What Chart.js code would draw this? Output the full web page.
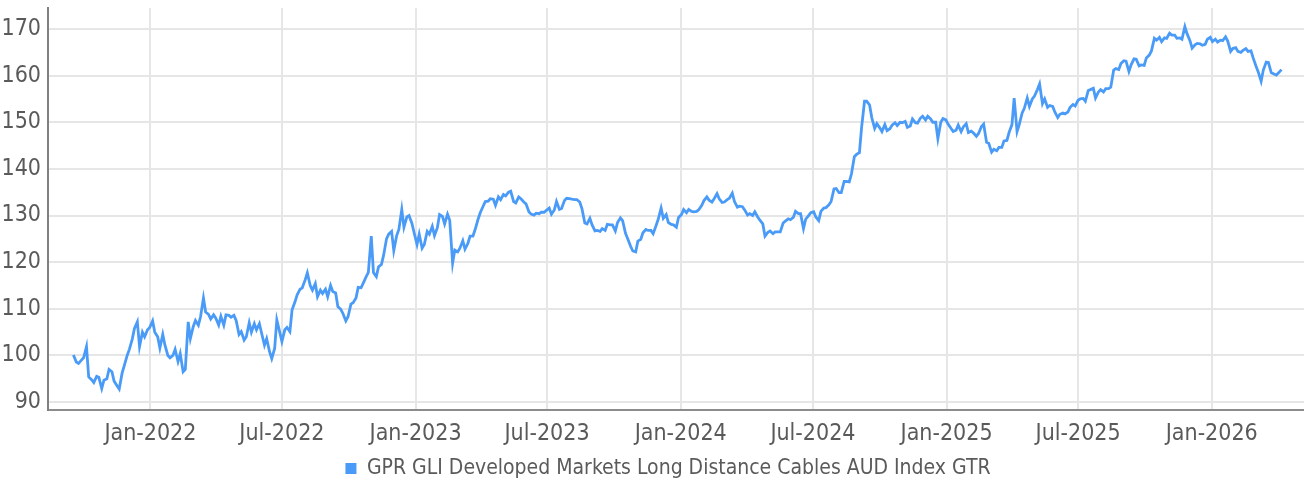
<!DOCTYPE html>
<html>
<head>
<meta charset="utf-8">
<script src="https://cdn.jsdelivr.net/npm/chart.js@4.4.1/dist/chart.umd.min.js"></script>
<style>
  html, body { margin: 0; padding: 0; background: #ffffff; }
  #wrap { width: 1304px; height: 493px; position: relative; }
</style>
</head>
<body>
<div id="wrap"><canvas id="indexChart"></canvas></div>
<script>
// Index levels, two per week:
// the Friday close and the following Tuesday close (weeks grouped by the Friday's year)
const seriesName = 'GPR GLI Developed Markets Long Distance Cables AUD Index GTR';
const firstFriday = '2021-09-17';

const close2021 = [100.1, 98.6, 98.3, 99.0, 99.5, 101.9, 95.4, 94.8, 94.2, 95.5, 95.3, 92.9, 94.7, 95.0, 97.0, 96.5,
                   94.5, 93.5, 92.8, 96.2, 97.8, 100.0, 101.3, 103.5, 105.8, 107.2, 101.9, 105.0, 104.0, 105.5, 106.0, 107.4];
const close2022 = [105.0, 104.0, 101.6, 104.5, 102.2, 100.0, 99.5, 100.0, 101.3, 98.7, 100.4, 96.5, 97.0, 107.2, 103.6, 106.2,
                   107.5, 106.5, 108.3, 112.3, 109.3, 108.8, 107.8, 108.7, 108.0, 106.5, 108.4, 106.5, 108.7, 108.6, 108.2, 108.6,
                   107.5, 104.5, 105.1, 103.3, 104.0, 107.0, 105.0, 106.8, 105.5, 106.8, 104.8, 102.2, 103.6, 100.8, 99.3, 101.5,
                   107.6, 105.0, 103.0, 105.5, 106.0, 105.1, 109.8, 111.5, 113.0, 114.2, 114.5, 116.2, 117.7, 115.0, 114.0, 115.4,
                   112.6, 114.0, 113.3, 114.2, 112.6, 115.0, 113.7, 113.4, 110.5, 109.9, 109.0, 107.4, 108.3, 111.0, 111.3, 112.3,
                   114.6, 114.5, 115.5, 116.9, 117.8, 125.6, 117.8, 116.9, 119.0, 119.5, 121.5, 125.0, 126.0, 126.6, 122.5, 125.7,
                   127.0, 131.3, 127.5, 129.7, 130.0, 128.3, 126.3, 123.8];
const close2023 = [126.0, 123.0, 123.8, 126.6, 126.0, 127.7, 125.7, 127.4, 130.2, 129.8, 128.2, 130.3, 129.0, 119.8, 122.6, 122.2,
                   123.0, 124.6, 122.8, 124.0, 125.6, 125.6, 127.0, 129.2, 130.6, 132.0, 133.0, 133.1, 133.6, 133.5, 132.2, 134.0,
                   133.4, 134.5, 134.2, 135.0, 135.2, 133.0, 132.7, 134.0, 133.6, 132.9, 132.5, 130.8, 130.3, 130.1, 130.5, 130.4,
                   130.7, 130.7, 131.1, 131.6, 130.3, 131.2, 133.0, 131.3, 131.5, 133.2, 133.7, 133.6, 133.5, 133.4, 133.4, 132.9,
                   131.5, 128.4, 128.2, 129.4, 128.0, 126.7, 126.8, 126.6, 127.2, 126.8, 128.1, 128.0, 128.0, 126.7, 128.5, 129.5,
                   128.9, 126.2, 125.0, 123.4, 122.4, 122.2, 124.5, 124.9, 126.3, 127.0, 126.8, 126.8, 126.1, 127.8, 129.2, 131.6,
                   129.4, 130.2, 128.5, 128.1, 128.0, 127.5, 129.6, 130.2];
const close2024 = [131.3, 130.6, 131.3, 130.9, 130.8, 130.9, 131.3, 132.2, 133.2, 134.0, 133.3, 132.9, 133.6, 134.7, 133.6, 132.8,
                   132.9, 133.4, 133.7, 134.8, 133.0, 131.8, 132.0, 131.9, 131.2, 130.1, 130.4, 130.0, 130.8, 129.7, 129.0, 128.2,
                   125.6, 126.4, 126.7, 126.1, 126.5, 126.5, 126.5, 128.4, 128.8, 129.3, 129.1, 129.6, 130.9, 130.4, 130.4, 127.2,
                   129.2, 130.0, 130.6, 130.8, 129.7, 128.9, 130.9, 131.6, 131.7, 132.3, 133.0, 135.7, 135.8, 134.9, 134.9, 137.3,
                   137.3, 137.2, 138.9, 142.6, 143.1, 143.5, 148.9, 154.5, 154.5, 153.7, 151.0, 148.7, 149.7, 148.8, 148.0, 149.5,
                   148.2, 148.6, 149.4, 149.9, 149.3, 150.0, 149.9, 150.2, 148.9, 149.2, 150.7, 149.9, 149.8, 150.9, 151.3, 150.5,
                   151.3, 150.7, 150.0, 150.0, 146.5, 150.0, 150.8, 150.5];
const close2025 = [149.6, 148.7, 148.0, 148.3, 149.4, 148.0, 149.0, 149.7, 147.8, 148.1, 147.7, 147.0, 147.6, 149.1, 149.6, 145.7,
                   145.5, 143.6, 144.2, 143.9, 144.6, 144.6, 146.0, 146.1, 147.8, 149.5, 155.2, 148.0, 149.5, 152.0, 153.0, 155.2,
                   153.4, 155.0, 155.6, 157.0, 158.2, 154.0, 155.0, 153.2, 153.6, 153.4, 152.2, 151.0, 151.7, 152.0, 151.8, 152.2,
                   153.2, 153.8, 153.5, 154.7, 155.0, 155.1, 154.5, 156.8, 157.0, 157.3, 155.2, 156.5, 157.0, 156.5, 157.2, 157.2,
                   157.5, 161.2, 161.5, 161.3, 162.6, 163.2, 163.1, 160.9, 162.3, 163.6, 163.5, 162.1, 162.3, 162.2, 163.8, 164.4,
                   165.3, 168.0, 167.6, 168.2, 167.3, 168.1, 168.0, 169.1, 168.7, 168.7, 168.0, 168.1, 167.8, 170.5, 169.0, 167.5,
                   165.9, 166.6, 166.9, 166.8, 166.5, 166.7, 167.8, 168.2];
const close2026 = [167.3, 167.8, 167.2, 167.6, 167.5, 168.3, 167.4, 165.2, 165.8, 166.0, 165.2, 165.0, 165.4, 165.8, 165.2, 165.3,
                   163.8, 162.0, 160.8, 158.8, 161.2, 162.9, 162.8, 160.6, 160.4, 160.1, 160.6, 161.3];

const xTickDates = ['2022-01-01', '2022-07-01', '2023-01-01', '2023-07-01', '2024-01-01',
                    '2024-07-01', '2025-01-01', '2025-07-01', '2026-01-01'];
const yTicks = [90, 100, 110, 120, 130, 140, 150, 160, 170];
const monthNames = ['Jan', 'Feb', 'Mar', 'Apr', 'May', 'Jun', 'Jul', 'Aug', 'Sep', 'Oct', 'Nov', 'Dec'];

const DAY = 86400000;
const toMs = d => Date.parse(d + 'T00:00:00Z');

const closes = [].concat(close2021, close2022, close2023, close2024, close2025, close2026);
const startMs = toMs(firstFriday);
// even entries are Fridays, odd entries the Tuesday four days later
const points = closes.map((v, k) => ({
    x: startMs + Math.floor(k / 2) * 7 * DAY + (k % 2) * 4 * DAY,
    y: v
}));

const fontFamily = '"Liberation Sans Narrow", "Arial Narrow", "DejaVu Sans Condensed", sans-serif';
const textColor = '#5a5a5a';
const lineBlue = '#4a9bf7';

function fmtTick(v) {
    let d = new Date(v);
    return monthNames[d.getUTCMonth()] + '-' + d.getUTCFullYear();
}

// the legend sits centred over the plot area rather than the whole canvas
const legendNudge = {
    id: 'legendNudge',
    afterLayout(chart) {
        chart.legend.left += 16;
        chart.legend.right += 16;
    }
};

let ctx = document.getElementById('indexChart').getContext('2d');

new Chart(ctx, {
    type: 'line',
    data: {
        datasets: [{
            label: seriesName,
            data: points,
            borderColor: lineBlue,
            backgroundColor: lineBlue,
            borderWidth: 2.8,
            pointRadius: 0,
            tension: 0,
            fill: false
        }]
    },
    options: {
        responsive: true,
        maintainAspectRatio: false,
        animation: false,
        layout: { padding: { top: 8, bottom: 4, left: 0, right: 0 } },
        scales: {
            x: {
                type: 'linear',
                min: toMs('2021-08-13'),
                max: toMs('2026-05-08'),
                grid: { color: '#e6e6e6', lineWidth: 2, drawTicks: false },
                border: { color: '#8c8c8c', width: 2 },
                ticks: {
                    padding: 10,
                    color: textColor,
                    font: { family: fontFamily, size: 23 },
                    maxRotation: 0,
                    autoSkip: false,
                    callback: v => fmtTick(v)
                },
                afterBuildTicks: axis => { axis.ticks = xTickDates.map(d => ({ value: toMs(d) })); },
                afterFit: axis => {
                    axis.height = 38;
                    axis.paddingLeft = 0;
                    axis.paddingRight = 0;
                }
            },
            y: {
                min: 88.3,
                max: 174.5,
                grid: { color: '#e6e6e6', lineWidth: 2, drawTicks: false },
                border: { color: '#808080', width: 2 },
                ticks: {
                    padding: 7,
                    color: textColor,
                    font: { family: fontFamily, size: 23 }
                },
                afterBuildTicks: axis => { axis.ticks = yTicks.map(v => ({ value: v })); },
                afterFit: axis => {
                    axis.width = 48;
                    axis.paddingTop = 0;
                    axis.paddingBottom = 0;
                }
            }
        },
        plugins: {
            legend: {
                position: 'bottom',
                labels: {
                    boxWidth: 11,
                    boxHeight: 11,
                    padding: 10,
                    color: textColor,
                    font: { family: fontFamily, size: 21 },
                    generateLabels: chart => {
                        let items = Chart.defaults.plugins.legend.labels.generateLabels(chart);
                        items.forEach(it => { it.lineWidth = 0; });
                        return items;
                    }
                }
            },
            tooltip: { enabled: false }
        }
    },
    plugins: [legendNudge]
});
</script>
</body>
</html>
